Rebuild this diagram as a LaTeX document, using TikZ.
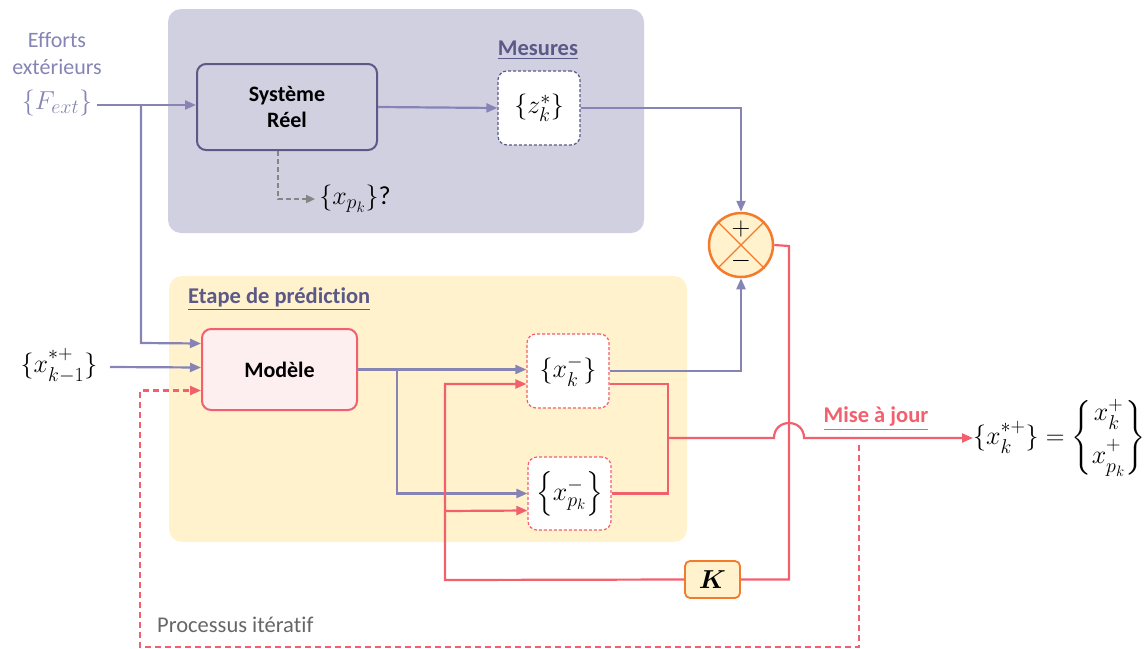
\RequirePackage{fix-cm}
\documentclass[tikz,border=0pt]{standalone}
\usepackage{amsmath}
\usepackage{fontspec}
\setmainfont{Carlito}[Ligatures=NoCommon]
\usetikzlibrary{arrows.meta,calc}
\DeclareMathSizes{26}{26}{20}{15}
\definecolor{bgpurple}{HTML}{D1D0E1}
\definecolor{bgyellow}{HTML}{FFF2CC}
\definecolor{lpurple}{HTML}{8584B5}
\definecolor{dpurple}{HTML}{5B5988}
\definecolor{redl}{HTML}{F2606E}
\definecolor{pinkfill}{HTML}{FDEEF0}
\definecolor{orangel}{HTML}{F47A2C}
\definecolor{greyt}{HTML}{666666}
\definecolor{greyl}{HTML}{858585}
\newcommand{\fs}[1]{\fontsize{#1}{#1}\selectfont}
\newcommand{\supr}[1]{\raisebox{3pt}{$\scriptstyle #1$}}
\newcommand{\subl}[1]{\raisebox{-3pt}{$\scriptstyle #1$}}
\tikzset{
  panel/.style={rounded corners=13pt, draw=none},
  blockbox/.style={rounded corners=9pt, line width=2pt, align=center, inner sep=0pt},
  statebox/.style={rounded corners=9pt, line width=1.2pt, dash pattern=on 3pt off 2pt, fill=white, inner sep=0pt},
  pline/.style={draw=lpurple, line width=2.2pt},
  rline/.style={draw=redl, line width=2.2pt},
  tip/.style={-{Triangle[length=11pt,width=9pt]}},
  lbl/.style={font=\fs{22.5}\bfseries, inner sep=0pt},
}
\begin{document}
\begin{tikzpicture}[x=1pt,y=-1pt]
\useasboundingbox (0,0) rectangle (1145,648);
% panels
\node[panel, fill=bgpurple, minimum width=476pt, minimum height=224pt] (ptop) at (406,121) {};
\node[panel, fill=bgyellow, minimum width=518pt, minimum height=266pt] (pbot) at (428,409) {};
% blocks
\node[blockbox, draw=dpurple, fill=bgpurple, minimum width=180pt, minimum height=86pt, font=\fontsize{22}{26}\selectfont\bfseries] (sys) at (287,107) {Système\\Réel};
\node[statebox, draw=dpurple, minimum width=82pt, minimum height=74pt] (z) at (539,108) {\fs{26}$\{z_k^*\}$};
\node[lbl, text=dpurple] (mes) at (538,50) {\underline{Mesures}};
\node[inner sep=0pt] (xpq) at (355,199) {\fs{26}$\{x_{p_k}\}$?};
\node[blockbox, draw=redl, fill=pinkfill, minimum width=155pt, minimum height=81pt, font=\fs{22}\bfseries] (mod) at (279.5,369.5) {Modèle};
\node[lbl, text=dpurple, anchor=west] (etp) at (188,299) {\underline{Etape de prédiction}};
\node[statebox, draw=redl, minimum width=82pt, minimum height=74pt] (xk) at (568,371) {\fs{26}$\{x_k^-\}$};
\node[statebox, draw=redl, minimum width=83pt, minimum height=73pt] (xpk) at (569.5,493.5) {\fs{26}$\left\{x_{p_k}^-\right\}$};
\node[circle, draw=orangel, fill=bgyellow, line width=2.5pt, minimum size=64pt, inner sep=0pt] (sum) at (741,245) {};
\draw[orangel, line width=1.2pt] (sum.45) -- (sum.225) (sum.135) -- (sum.-45);
\node[inner sep=0pt] (plus) at ([yshift=16pt]sum.center) {\fs{26}$+$};
\node[inner sep=0pt] (minus) at ([yshift=-16pt]sum.center) {\fs{26}$-$};
\node[blockbox, draw=orangel, fill=bgyellow, line width=1.8pt, rounded corners=5pt, minimum width=55pt, minimum height=37pt] (K) at (712.5,579.5) {\fs{26}$\boldsymbol{K}$};
% texts
\node[align=center, text=lpurple, font=\fontsize{22}{27}\selectfont, inner sep=0pt] (eff) at (57,54) {Efforts\\extérieurs};
\node[text=lpurple, inner sep=0pt] (fext) at (57,103) {\fs{26}$\{F_{ext}\}$};
\node[inner sep=0pt] (xkm1) at (59,366) {\fs{26}$\{x_{\subl{k-1}}^{\supr{*+}}\}$};
\node[anchor=west, text=greyt, font=\fs{22.5}, inner sep=0pt] (proc) at (157,625) {Processus itératif};
\node[lbl, text=redl] (maj) at (876,419) {\underline{Mise à jour}};
\node[anchor=west, inner sep=0pt] (res) at (973,438) {\fs{26}$\{x_{\subl{k}}^{\supr{*+}}\} = \begin{Bmatrix} x_k^+ \\[11pt] x_{\subl{p_k}}^{\supr{+}} \end{Bmatrix}$};
% coordinates
\coordinate (fin) at (97,105);
\coordinate (br1) at (141,105);
\coordinate (xin) at (110,367);
\coordinate (mb) at (397,370);
\coordinate (ka) at (445,580);
\coordinate (sr) at (789,246);
\coordinate (mj) at (668,384);
\coordinate (mm) at (668,438);
\coordinate (jl) at (774,438);
\coordinate (jr) at (804,438);
\coordinate (dtop) at (859,445);
\coordinate (dbr) at (859,647);
\coordinate (dbl) at (140,647);
% purple connectors
\draw[pline, tip] (fin) -- (sys.west |- fin);
\draw[pline, tip] (br1) -- (141,343) -- ([yshift=26pt]mod.west);
\draw[pline, tip] (xin) -- ([yshift=2pt]mod.west);
\draw[pline, tip] (sys.east) -- (z.west);
\draw[pline, tip] (z.east) -| (sum.north);
\draw[pline, tip] (mod.east) -- (mod.east -| xk.west);
\draw[pline, tip] (mb) |- (xpk.west);
\draw[pline, tip] (xk.east) -| (sum.south);
% grey dashed
\draw[draw=greyl, line width=2pt, dash pattern=on 5pt off 3pt, -{Triangle[length=9pt,width=8pt]}] (sys.south -| 278,0) |- ([xshift=-4pt]xpq.west);
% red connectors
\draw[rline] (sum.east) -- (sr) |- (K.east);
\draw[rline, tip] (K.west) -- (ka) |- ([yshift=-13pt]xk.west);
\draw[rline, tip] (ka |- 0,511) -- ([yshift=-17pt]xpk.west);
\draw[rline] ([yshift=-13pt]xk.east) -- (mj) |- (xpk.east);
\draw[rline, tip] (mm) -- (jl) .. controls (774,418) and (804,418) .. (jr) -- (res.west);
\draw[rline, dash pattern=on 6pt off 4pt, tip] (dtop) -- (dbr) -- (dbl) |- ([yshift=-21pt]mod.west);
\end{tikzpicture}
\end{document}
